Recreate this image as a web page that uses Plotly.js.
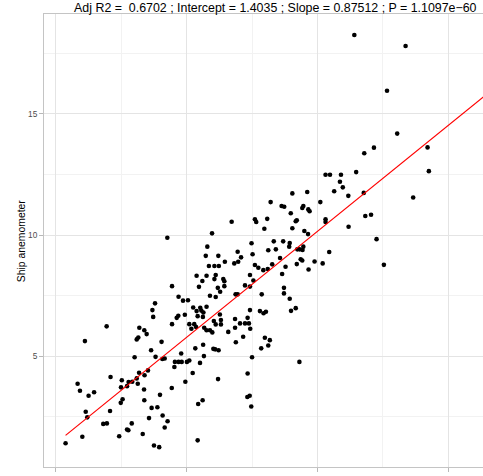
<!DOCTYPE html>
<html>
<head>
<meta charset="utf-8">
<script src="https://cdn.plot.ly/plotly-3.0.1.min.js"></script>
<style>
html,body{margin:0;padding:0;overflow:hidden;background:#fff;}
#chart{width:483px;height:476px;}
</style>
</head>
<body>
<div id="chart"></div>
<script>
// Reanalysis / reference wind speed (x) vs ship anemometer (y)
const xVals = [
1.94,3.19,3.38,3.47,3.09,3.15,1.11,3.01,3.18,3.52,3.39,2.09,2.52,2.78,2.92,3.09,3.13,2.72,2.49,0.83,
0.92,1.46,1.25,3.37,2.55,2.48,3.38,2.07,1.14,1.20,3.56,1.81,1.95,2.90,2.72,2.77,3.32,2.42,1.01,0.37,
3.79,4.86,5.05,5.25,3.69,3.72,4.62,4.68,4.93,5.42,4.44,5.10,5.29,5.18,5.36,4.04,3.64,5.33,3.81,4.07,
4.16,4.79,4.55,4.69,4.81,5.01,5.10,4.53,5.23,4.95,4.43,3.98,5.44,5.61,3.66,3.88,4.08,4.27,4.16,3.75,
3.95,5.42,9.04,9.61,8.21,8.63,8.73,9.46,9.42,9.65,9.70,8.98,9.21,9.17,9.04,9.50,9.64,7.61,7.66,8.08,
6.72,7.97,5.97,4.26,8.33,8.69,8.94,8.92,7.48,5.79,8.12,8.41,9.23,9.32,9.46,9.43,6.95,7.52,5.73,6.21,
6.46,6.82,6.97,7.08,7.61,7.74,7.93,8.10,8.27,5.85,6.06,6.23,5.38,5.76,6.11,6.06,6.40,6.44,5.60,5.47,
6.19,6.44,7.42,7.55,7.23,7.42,5.89,6.11,6.28,6.87,6.95,7.87,5.38,5.52,5.56,5.64,5.76,5.62,6.27,6.04,
6.11,6.31,6.31,6.85,7.04,7.23,7.38,7.33,6.59,6.85,7.16,7.42,7.80,7.94,8.03,5.67,5.76,5.89,5.98,7.43,
7.99,8.18,6.88,5.63,6.02,6.09,6.22,5.66,5.51,6.20,7.33,7.50,7.85,8.12,9.31,7.32,7.41,7.47,4.69,4.44,
11.41,13.37,12.66,13.05,12.16,11.79,14.21,14.26,13.66,10.31,10.48,10.90,11.48,10.86,10.97,10.64,11.18,11.77,10.11,10.31,
10.31,11.83,12.05,11.19,8.57,9.36,9.42,9.21,8.78,8.65,9.66,9.89,10.20,10.45,12.26,12.54,8.72,8.72,8.94,8.99,
9.17
];
const yVals = [
6.23,6.17,6.07,5.91,5.69,5.77,5.62,4.95,4.31,4.41,4.21,4.14,4.00,3.93,3.94,4.08,3.86,3.76,3.71,3.86,
3.57,3.51,3.36,3.62,3.22,3.07,3.18,2.73,2.70,2.47,2.44,2.20,2.22,2.22,1.97,1.94,1.78,1.69,1.67,1.40,
7.18,7.29,7.31,7.01,6.90,6.62,6.58,6.67,6.71,6.65,6.32,6.32,6.32,6.13,6.20,5.59,5.24,5.32,4.97,4.88,
4.90,5.11,4.76,4.76,4.76,4.76,4.82,4.55,4.30,3.94,3.68,3.40,3.02,3.18,2.86,2.89,2.55,2.31,2.05,1.31,
1.24,1.52,11.72,11.78,11.36,11.20,11.17,11.20,11.12,11.06,10.98,10.90,10.61,10.57,10.28,10.17,10.04,10.65,10.54,10.67,
10.55,10.26,10.07,9.89,9.74,9.74,9.67,9.52,9.66,9.52,9.37,9.41,9.41,9.41,9.52,9.38,9.31,9.21,9.14,9.14,
8.90,8.83,8.90,9.08,8.76,8.65,8.55,8.60,8.79,8.72,8.72,8.72,8.32,8.32,8.35,8.18,8.18,8.09,8.10,7.86,
7.82,7.89,8.35,8.12,7.92,7.87,7.49,7.44,7.66,7.55,7.55,7.55,6.86,7.00,6.88,6.80,7.04,6.62,6.72,6.45,
6.31,6.49,6.31,6.53,6.35,6.35,6.35,6.58,6.00,6.17,5.80,6.90,6.86,6.77,6.83,6.17,6.07,6.07,5.98,6.13,
5.76,5.66,5.57,5.47,5.30,5.28,5.24,5.00,4.72,4.05,4.28,4.95,5.32,5.44,4.76,3.31,3.36,2.92,7.45,7.89,
18.26,17.81,15.96,14.19,13.61,13.38,13.62,12.64,11.55,12.49,12.49,12.49,12.60,12.20,11.97,11.81,11.62,11.74,11.36,10.65,
10.54,10.79,10.84,10.34,9.05,9.00,8.95,8.80,8.69,8.39,8.58,8.91,8.83,9.30,9.83,8.77,7.82,7.59,7.37,6.87,
6.98
];
const fitIntercept = 1.4035;
const fitSlope = 0.87512;
const fitRange = [0.37, 17.3];
const titleText = "Adj R2 =  0.6702 ; Intercept = 1.4035 ; Slope = 0.87512 ; P = 1.1097e\u221260";
const yLabel = "Ship anemometer";
const xTicks = [0, 5, 10, 15];
const yTicks = [5, 10, 15];

const fitY = fitRange.map(v => fitIntercept + fitSlope * v);

const traces = [
  {x: xVals, y: yVals, type: 'scatter', mode: 'markers',
   marker: {color: '#000000', size: 4.6}, hoverinfo: 'skip', cliponaxis: true},
  {x: fitRange, y: fitY, type: 'scatter', mode: 'lines',
   line: {color: '#FF0000', width: 1.2}, hoverinfo: 'skip'}
];

const layout = {
  width: 483, height: 476,
  margin: {l: 44, r: 0, t: 14, b: 9, pad: 0},
  paper_bgcolor: '#ffffff', plot_bgcolor: '#ffffff',
  showlegend: false,
  font: {family: 'Liberation Sans, Arial, sans-serif', color: '#4D4D4D'},
  title: {text: titleText, font: {size: 12.4, color: '#000000', family: 'Liberation Sans, Arial, sans-serif'},
          xref: 'container', x: 275.3/483, xanchor: 'center',
          yref: 'container', y: 1 - 8/476, yanchor: 'middle'},
  xaxis: {range: [-0.455, 16.33], tickvals: xTicks, ticktext: xTicks.map(String),
          showgrid: true, gridcolor: '#E4E4E4', gridwidth: 1,
          minor: {dtick: 2.5, tick0: 0, showgrid: true, gridcolor: '#F2F2F2', gridwidth: 1},
          zeroline: false, showline: true, linecolor: '#C4C4C4', linewidth: 1, mirror: true,
          ticks: 'outside', ticklen: 4, tickcolor: '#B8B8B8', tickwidth: 1,
          tickfont: {size: 8.3, color: '#4D4D4D'}, automargin: false, fixedrange: true},
  yaxis: {range: [0.42, 19.13], tickvals: yTicks, ticktext: yTicks.map(String),
          showgrid: true, gridcolor: '#E4E4E4', gridwidth: 1,
          minor: {dtick: 2.5, tick0: 0, showgrid: true, gridcolor: '#F2F2F2', gridwidth: 1},
          zeroline: false, showline: true, linecolor: '#C4C4C4', linewidth: 1, mirror: false,
          ticks: 'outside', ticklen: 4, tickcolor: '#B8B8B8', tickwidth: 1,
          tickfont: {size: 8.3, color: '#4D4D4D'}, automargin: false, fixedrange: true},
  annotations: [
    {text: yLabel, xref: 'paper', yref: 'paper', x: -(44 - 21.7) / 439, y: 0.5,
     xanchor: 'center', yanchor: 'middle', textangle: -90, showarrow: false,
     font: {size: 10.4, color: '#000000', family: 'Liberation Sans, Arial, sans-serif'}}
  ]
};

Plotly.newPlot('chart', traces, layout, {displayModeBar: false, staticPlot: true});
</script>
</body>
</html>
